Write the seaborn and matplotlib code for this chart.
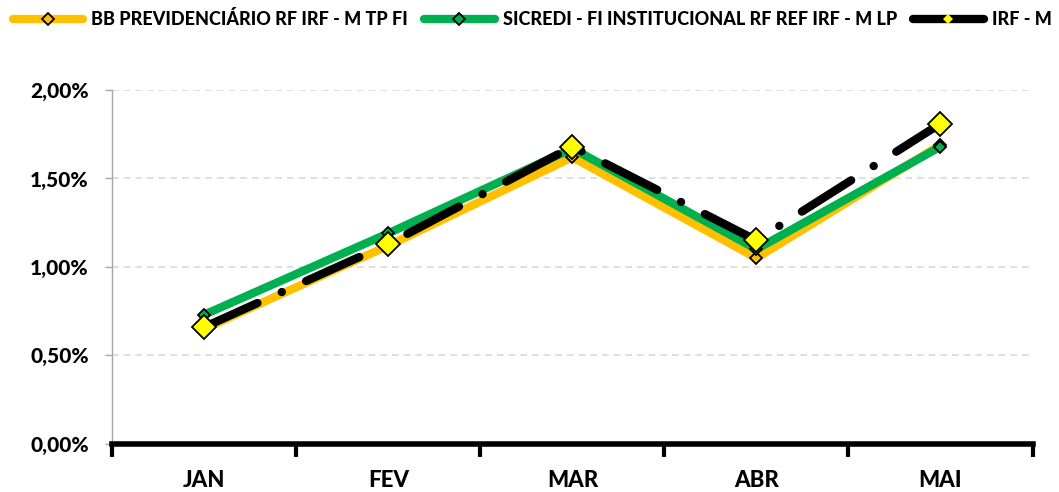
import matplotlib
matplotlib.use("Agg")
import matplotlib.pyplot as plt
import matplotlib.ticker as mticker
import pandas as pd
import seaborn as sns

months = ["JAN", "FEV", "MAR", "ABR", "MAI"]
bb_prev = [0.65, 1.12, 1.62, 1.05, 1.69]
sicredi = [0.73, 1.19, 1.67, 1.10, 1.68]
irf_m = [0.66, 1.13, 1.68, 1.15, 1.81]
series_names = [
    "BB PREVIDENCIÁRIO RF IRF - M TP FI",
    "SICREDI - FI INSTITUCIONAL RF REF IRF - M LP",
    "IRF - M",
]

sns.set_theme(style="white")
plt.rcParams["font.family"] = ["Lato", "DejaVu Sans"]
plt.rcParams["font.weight"] = "black"
plt.rcParams["text.color"] = "black"
plt.rcParams["xtick.labelcolor"] = "black"
plt.rcParams["ytick.labelcolor"] = "black"

fig = plt.figure(figsize=(10.59, 4.92), dpi=100)
ax = fig.add_axes([0.106, 0.098, 0.869, 0.719])

df = pd.DataFrame({"mes": months, "bb": bb_prev, "sicredi": sicredi, "irf": irf_m})

# BB and Sicredi: solid lines with small diamonds
sns.lineplot(data=df, x="mes", y="bb", ax=ax, color="#FFC000", lw=6,
             marker="D", markersize=6, markerfacecolor="#FFC000",
             markeredgecolor="black", markeredgewidth=1.3,
             label=series_names[0], sort=False, zorder=3)
sns.lineplot(data=df, x="mes", y="sicredi", ax=ax, color="#00B050", lw=6,
             marker="D", markersize=6, markerfacecolor="#00B050",
             markeredgecolor="black", markeredgewidth=1.3,
             label=series_names[1], sort=False, zorder=4)
# benchmark: dash-dot black with big yellow diamonds
sns.lineplot(data=df, x="mes", y="irf", ax=ax, color="black", lw=6,
             marker="D", markersize=12, markerfacecolor="#FFFF00",
             markeredgecolor="black", markeredgewidth=1.3,
             label=series_names[2], sort=False, zorder=5)
irf_line = ax.get_lines()[-1]
irf_line.set_linestyle((0, (7, 3.2, 0.01, 3.2)))
irf_line.set_dash_capstyle("round")

ax.set_xlim(-0.5, 4.5)
ax.set_ylim(0, 2.0)
ax.yaxis.set_major_locator(mticker.MultipleLocator(0.5))
ax.yaxis.set_major_formatter(mticker.FuncFormatter(lambda v, p: f"{v:.2f}%".replace(".", ",")))
ax.grid(axis="y", color="#D9D9D9", linestyle=(0, (4, 3)), lw=1.2)
ax.set_axisbelow(True)

ax.set_xticks([i - 0.5 for i in range(len(months) + 1)])
ax.set_xticklabels([])
ax.set_xticks(range(len(months)), minor=True)
ax.set_xticklabels(months, minor=True)
ax.tick_params(axis="x", which="major", direction="out", length=9, width=3, color="black", bottom=True)
ax.tick_params(axis="x", which="minor", length=0, pad=19, labelsize=16)
ax.tick_params(axis="y", length=5, width=1, color="#A6A6A6", left=True, labelsize=15, pad=12)
for lbl in ax.get_xticklabels(minor=True) + ax.get_yticklabels():
    lbl.set_fontweight("black")

for side in ["top", "right"]:
    ax.spines[side].set_visible(False)
ax.spines["left"].set_color("#A6A6A6")
ax.spines["left"].set_linewidth(1)
ax.spines["bottom"].set_color("black")
ax.spines["bottom"].set_linewidth(4)
ax.set_xlabel("")
ax.set_ylabel("")

handles, labels = ax.get_legend_handles_labels()
ax.get_legend().remove()
leg = fig.legend(handles, labels, loc="center left", bbox_to_anchor=(0.012, 0.961),
                 ncol=3, frameon=False, handlelength=3.9, columnspacing=0.9,
                 handletextpad=0.45, borderaxespad=0, borderpad=0,
                 prop={"weight": "black", "size": 13})
for h in leg.legend_handles:
    h.set_markersize(6)
    h.set_linewidth(6)
    h.set_solid_capstyle("round")
irf_h = leg.legend_handles[2]
irf_h.set_linestyle("-")
irf_h.set_markersize(5)
irf_h.set_markeredgewidth(0)

fig.savefig("out.png", dpi=100)
